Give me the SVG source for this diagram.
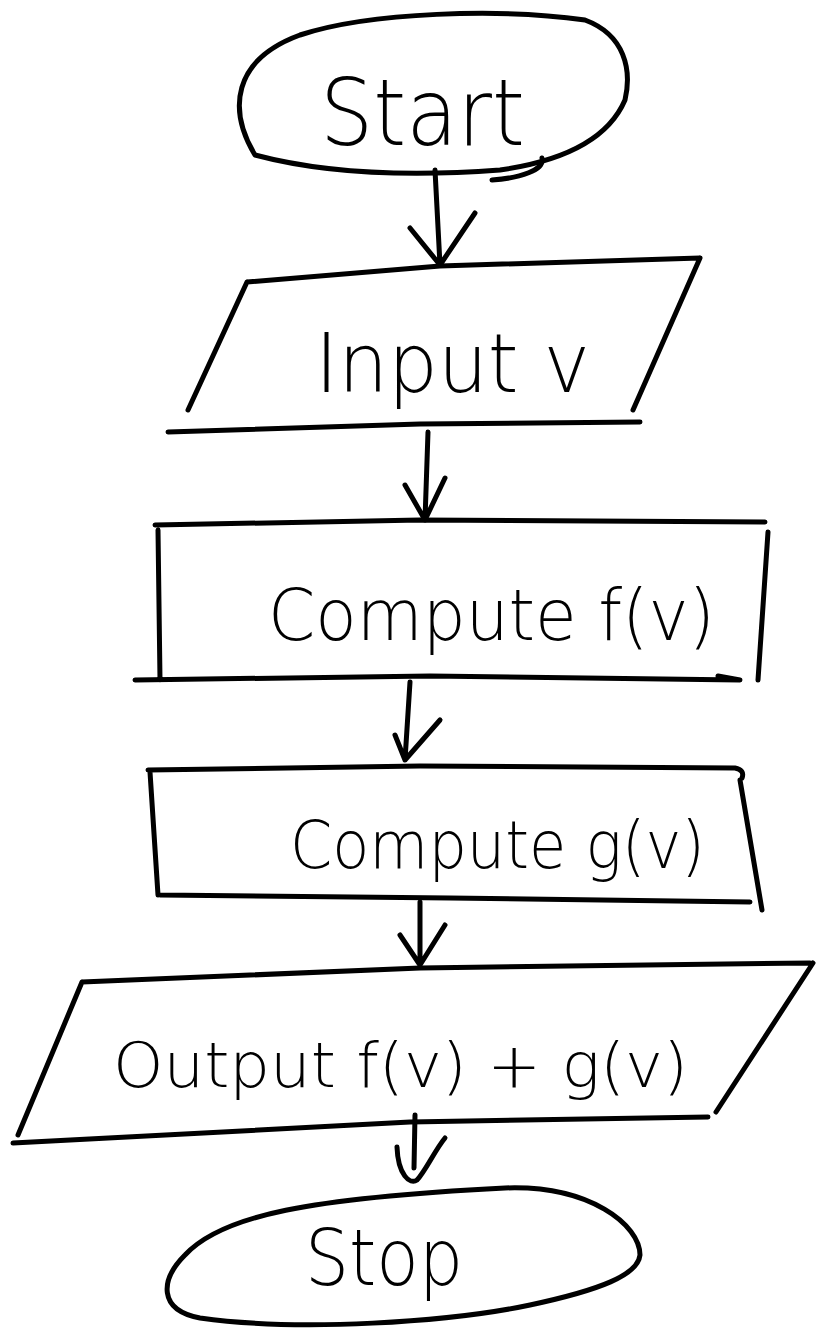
<svg xmlns="http://www.w3.org/2000/svg" width="821" height="1333" viewBox="0 0 821 1333">
<style>
.s{fill:none;stroke:#000;stroke-width:5;stroke-linecap:round;stroke-linejoin:round}
.t{font-family:"DejaVu Sans","Liberation Sans",sans-serif;font-weight:300;fill:#000;text-anchor:start}
</style>
<rect width="821" height="1333" fill="#fff"/>
<g id="start">
<path class="s" d="M 255 155 C 228 110, 232 60, 300 35 C 370 12, 500 8, 585 20 C 625 35, 632 70, 625 100 C 610 135, 570 160, 500 170 C 420 176, 330 175, 255 155 Z"/>
<path class="s" d="M 492 180 C 520 178, 545 170, 542 158"/>
<text class="t" x="320" y="145" font-size="92" textLength="205" lengthAdjust="spacingAndGlyphs">Start</text>
</g>
<g id="input">
<path class="s" d="M 247 282 L 440 266 L 700 258 M 700 258 L 633 410 M 247 282 L 188 410 M 168 432 L 420 424 L 640 422"/>
<text class="t" x="315" y="392" font-size="82" textLength="275" lengthAdjust="spacingAndGlyphs">Input v</text>
</g>
<g id="computef">
<path class="s" d="M 155 525 L 420 520 L 765 522 M 158 530 L 160 680 M 768 532 L 758 680 M 135 680 L 430 676 L 740 680 L 718 676"/>
<text class="t" x="268" y="640" font-size="72" textLength="447" lengthAdjust="spacingAndGlyphs">Compute f(v)</text>
</g>
<g id="computeg">
<path class="s" d="M 148 770 L 420 766 L 735 768 Q 745 770 742 778 M 150 772 L 158 895 M 740 780 L 762 910 M 160 895 L 450 898 L 750 902"/>
<text class="t" x="290" y="868" font-size="66" textLength="415" lengthAdjust="spacingAndGlyphs">Compute g(v)</text>
</g>
<g id="output">
<path class="s" d="M 82 982 L 420 968 L 810 963 M 813 963 L 716 1112 M 82 982 L 18 1135 M 13 1143 L 410 1122 L 708 1117"/>
<text class="t" x="113" y="1087" font-size="62" textLength="575" lengthAdjust="spacingAndGlyphs">Output f(v) + g(v)</text>
</g>
<g id="stop">
<path class="s" d="M 505 1188 C 590 1185, 640 1225, 640 1255 C 638 1275, 600 1290, 530 1305 C 450 1322, 300 1332, 200 1318 C 158 1310, 160 1280, 185 1255 C 222 1215, 310 1198, 505 1188 Z"/>
<text class="t" x="305" y="1285" font-size="78" textLength="158" lengthAdjust="spacingAndGlyphs">Stop</text>
</g>
<g id="connectors">
<path class="s" d="M 435 170 L 440 265 M 410 228 L 440 265 L 475 213"/>
<path class="s" d="M 428 432 L 425 520 M 405 485 L 425 520 L 445 478"/>
<path class="s" d="M 410 682 L 405 760 M 395 735 L 405 760 L 440 720"/>
<path class="s" d="M 420 902 L 420 965 M 400 935 L 420 965 L 445 925"/>
<path class="s" d="M 415 1115 L 414 1168 M 397 1147 C 398 1175, 410 1185, 417 1180 C 425 1172, 435 1150, 445 1138"/>
</g>
</svg>
